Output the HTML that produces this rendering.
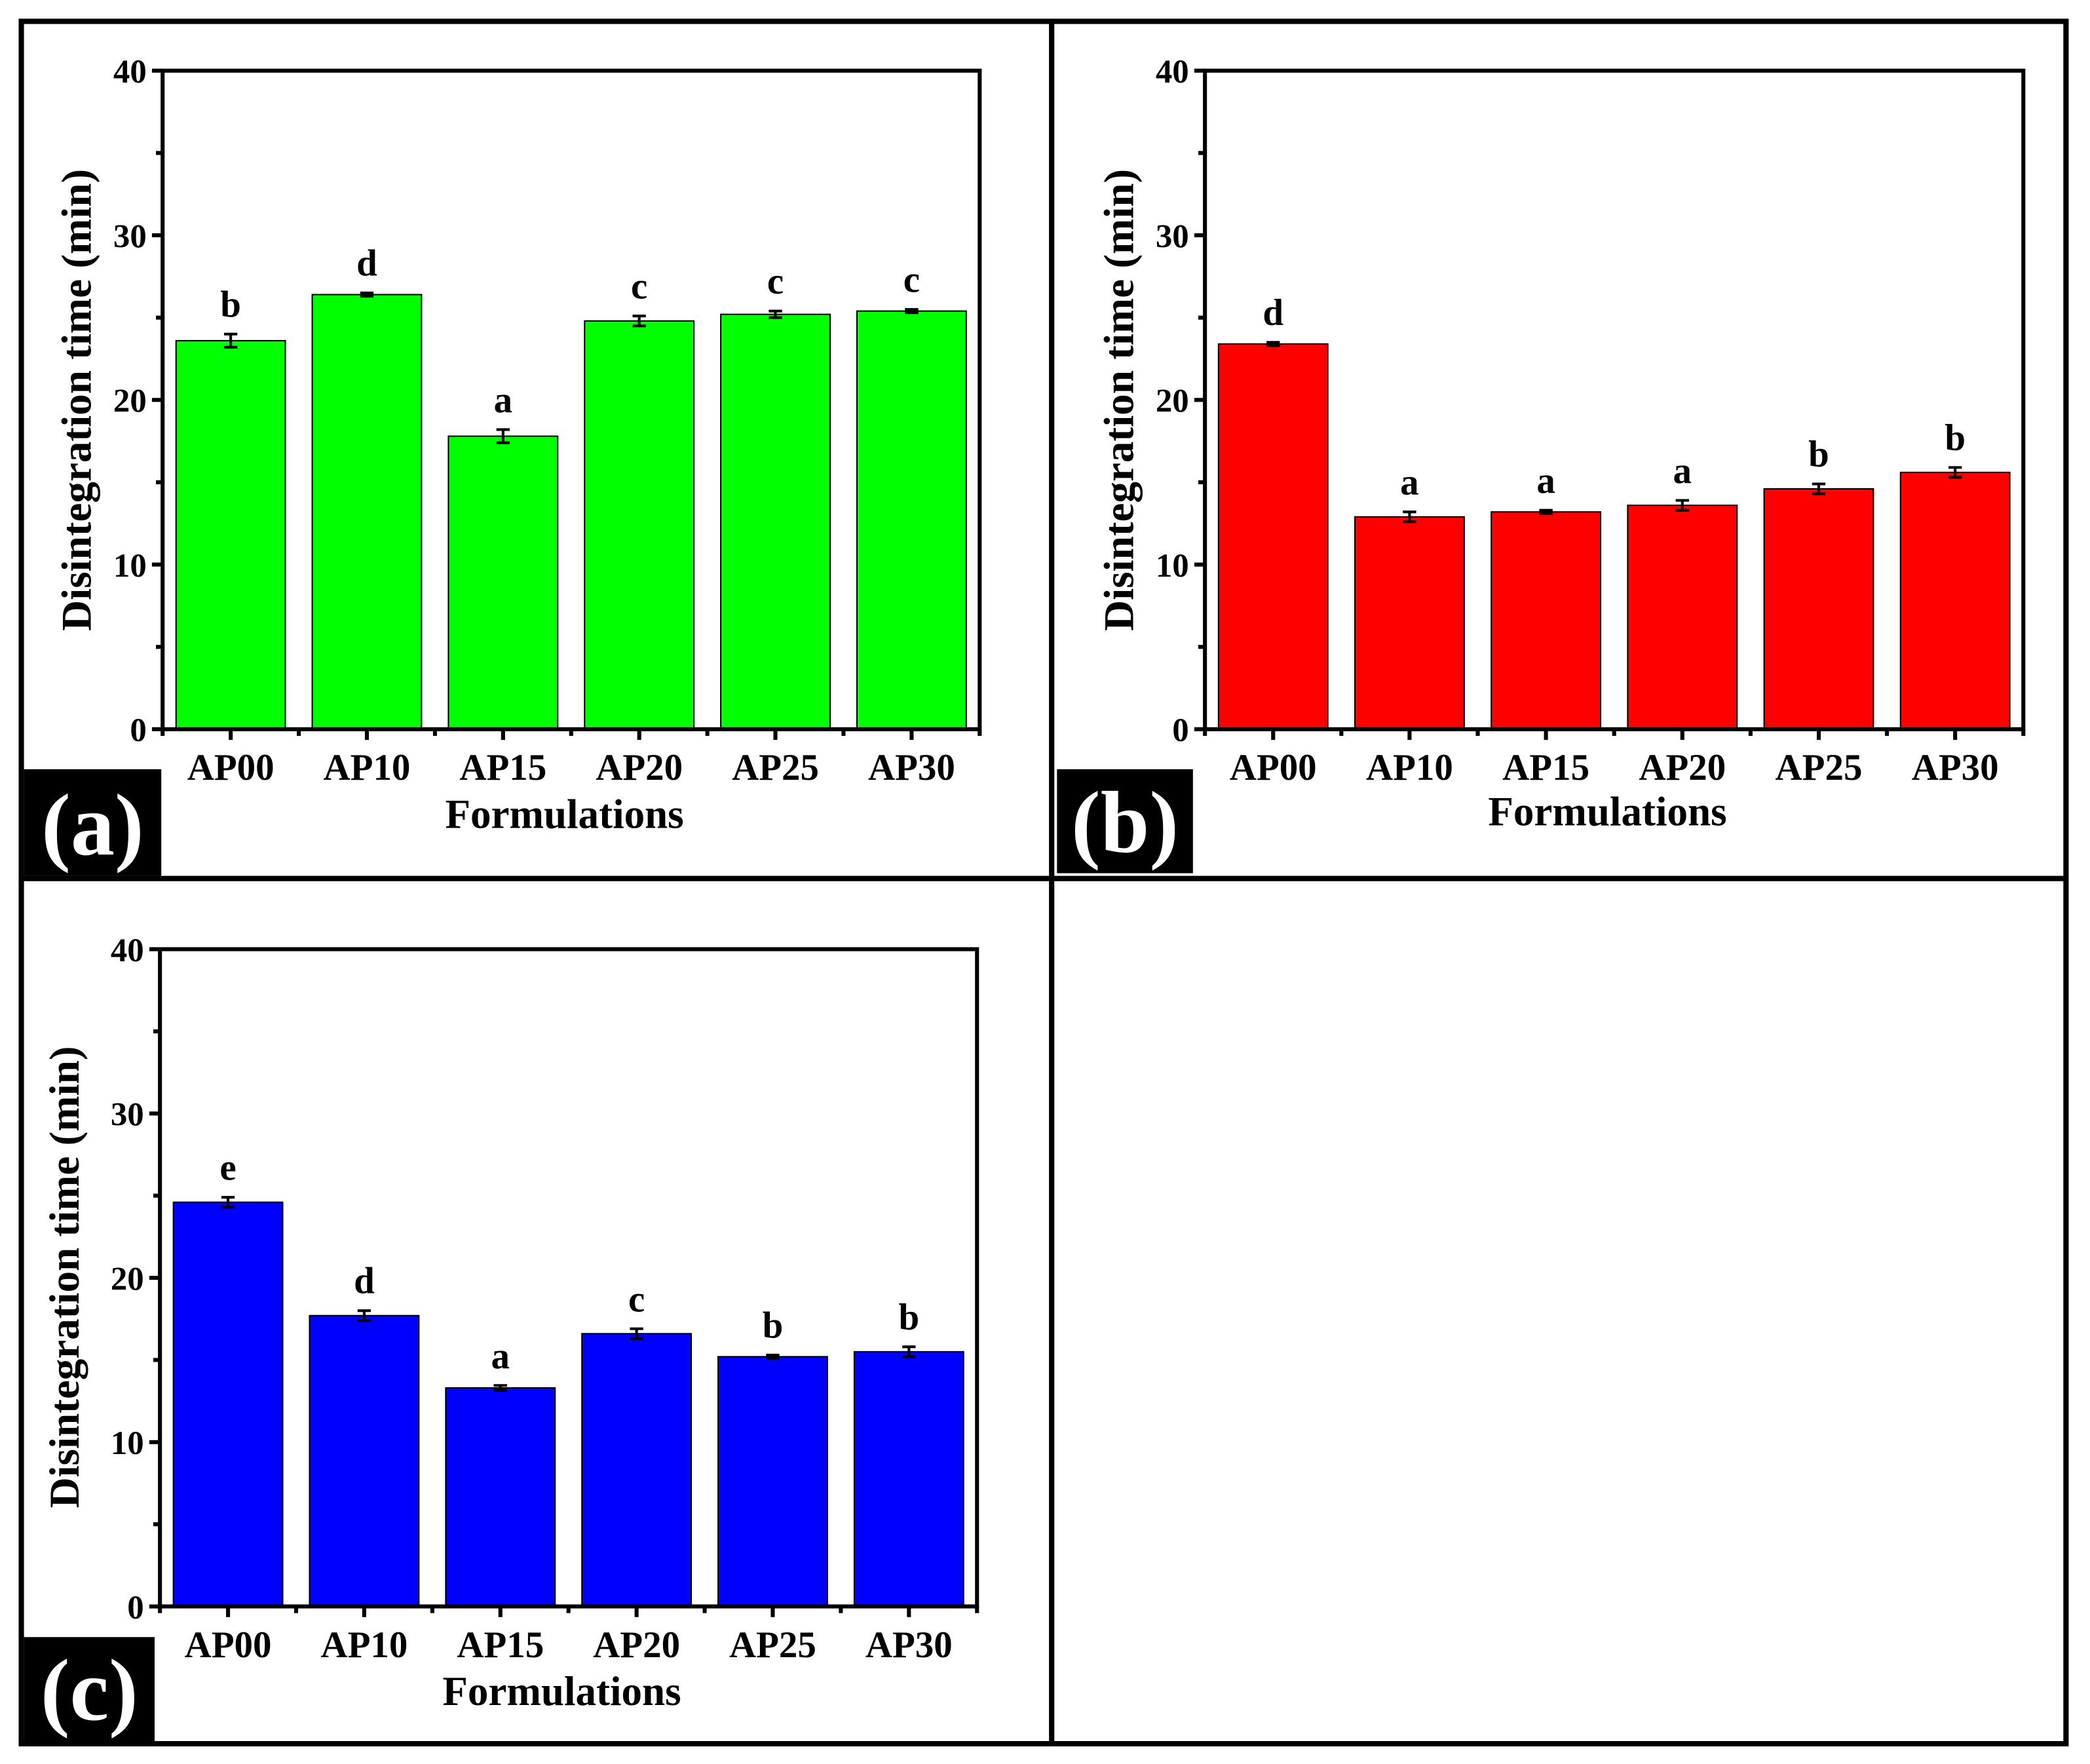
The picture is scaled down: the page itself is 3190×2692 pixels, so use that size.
<!DOCTYPE html>
<html><head><meta charset="utf-8"><style>
html,body{margin:0;padding:0;background:#fff;}
svg{display:block;font-family:"Liberation Serif",serif;font-weight:bold;}
</style></head><body>
<svg id="fig" width="3190" height="2692" viewBox="0 0 1568 1323.2" xmlns="http://www.w3.org/2000/svg">
<rect x="16" y="16" width="1534" height="1292" fill="none" stroke="#000" stroke-width="4"/>
<line x1="789" y1="16" x2="789" y2="1308" stroke="#000" stroke-width="4"/>
<line x1="16" y1="659" x2="1550" y2="659" stroke="#000" stroke-width="4"/>
<g id="panels"></g>
</svg>
<script>
const categories = ["AP00","AP10","AP15","AP20","AP25","AP30"];
const yTicks = [0,10,20,30,40];
const valuesA = [23.6,26.4,17.8,24.8,25.2,25.4];
const errorsA = [0.4,0.1,0.4,0.3,0.2,0.1];
const lettersA = ["b","d","a","c","c","c"];
const valuesB = [23.4,12.9,13.2,13.6,14.6,15.6];
const errorsB = [0.1,0.3,0.1,0.3,0.3,0.3];
const lettersB = ["d","a","a","a","b","b"];
const valuesC = [24.6,17.7,13.3,16.6,15.2,15.5];
const errorsC = [0.3,0.3,0.15,0.3,0.1,0.3];
const lettersC = ["e","d","a","c","b","b"];

const NS = "http://www.w3.org/2000/svg";
const root = document.getElementById('panels');
function mk(tag, attrs, parent, text){
  const e = document.createElementNS(NS, tag);
  for (const k in attrs) e.setAttribute(k, attrs[k]);
  if (text !== undefined) e.textContent = text;
  parent.appendChild(e);
  return e;
}
function panel(id, L, R, T, B, vals, errs, letters, color, tag, box, titleX, titleY){
  const g = mk('g', {}, root);
  
  
  const y = v => B - (v / 40) * (B - T);
  const step = (R - L) / 6;
  const x = i => L + step * (i + 0.5);
  const bw = 82;
  vals.forEach((v, i) => {
    const r = mk('rect', {x: x(i) - bw/2, y: y(v), width: bw, height: B - y(v), fill: color, stroke: '#000', 'stroke-width': 1}, g);
    
    
    const e = errs[i];
    const eg = mk('path', {d: `M${x(i)},${y(v+e)}V${y(v-e)}M${x(i)-5},${y(v+e)}H${x(i)+5}M${x(i)-5},${y(v-e)}H${x(i)+5}`, stroke: '#000', 'stroke-width': 2, fill: 'none'}, g);
    
    
    const t = mk('text', {x: x(i), y: y(v+e) - 13, 'text-anchor': 'middle', 'font-size': 28}, g, letters[i]);
    
    
  });
  const ax = mk('rect', {x: L, y: T, width: R - L, height: B - T, fill: 'none', stroke: '#000', 'stroke-width': 3}, g);
  
  
  for (let v = 0; v <= 40; v += 5) {
    const major = v % 10 === 0;
    mk('line', {x1: L, x2: L - (major ? 8 : 5), y1: y(v), y2: y(v), stroke: '#000', 'stroke-width': 3}, g);
  }
  yTicks.forEach(v => {
    const t = mk('text', {x: L - 12, y: y(v) + 9, 'text-anchor': 'end', 'font-size': 25}, g, String(v));
    
    
  });
  for (let i = 0; i <= 6; i++) mk('line', {x1: L + step*i, x2: L + step*i, y1: B, y2: B + 5, stroke: '#000', 'stroke-width': 3}, g);
  categories.forEach((c, i) => {
    mk('line', {x1: x(i), x2: x(i), y1: B, y2: B + 8, stroke: '#000', 'stroke-width': 3}, g);
    const t = mk('text', {x: x(i), y: B + 38, 'text-anchor': 'middle', 'font-size': 28}, g, c);
    
    
  });
  const xt = mk('text', {x: (L + R)/2 - 5, y: B + (id === 'b' ? 72 : 74), 'text-anchor': 'middle', 'font-size': 31}, g, 'Formulations');
  
  
  const yt = mk('text', {x: 0, y: 0, 'text-anchor': 'middle', 'font-size': 32, transform: `translate(${titleX},${titleY}) rotate(-90)`}, g, 'Disintegration time (min)');
  
  
  const bx = mk('rect', {x: box[0], y: box[1], width: box[2], height: box[3], fill: '#000'}, g);
  
  
  const lt = mk('text', {x: box[0] + box[2]/2, y: box[1] + box[3] - 16, 'text-anchor': 'middle', 'font-size': 66, fill: '#fff'}, g, tag);
  
  
}
panel('a', 122, 735, 53, 547, valuesA, errorsA, lettersA, '#00ff00', '(a)', [18, 577, 103, 80], 68, 300);
panel('b', 904, 1518, 53, 547, valuesB, errorsB, lettersB, '#ff0000', '(b)', [793, 577, 102, 78], 850, 300);
panel('c', 120, 733, 712, 1205, valuesC, errorsC, lettersC, '#0000ff', '(c)', [18, 1228, 98, 78], 59, 958);
</script>
</body></html>
